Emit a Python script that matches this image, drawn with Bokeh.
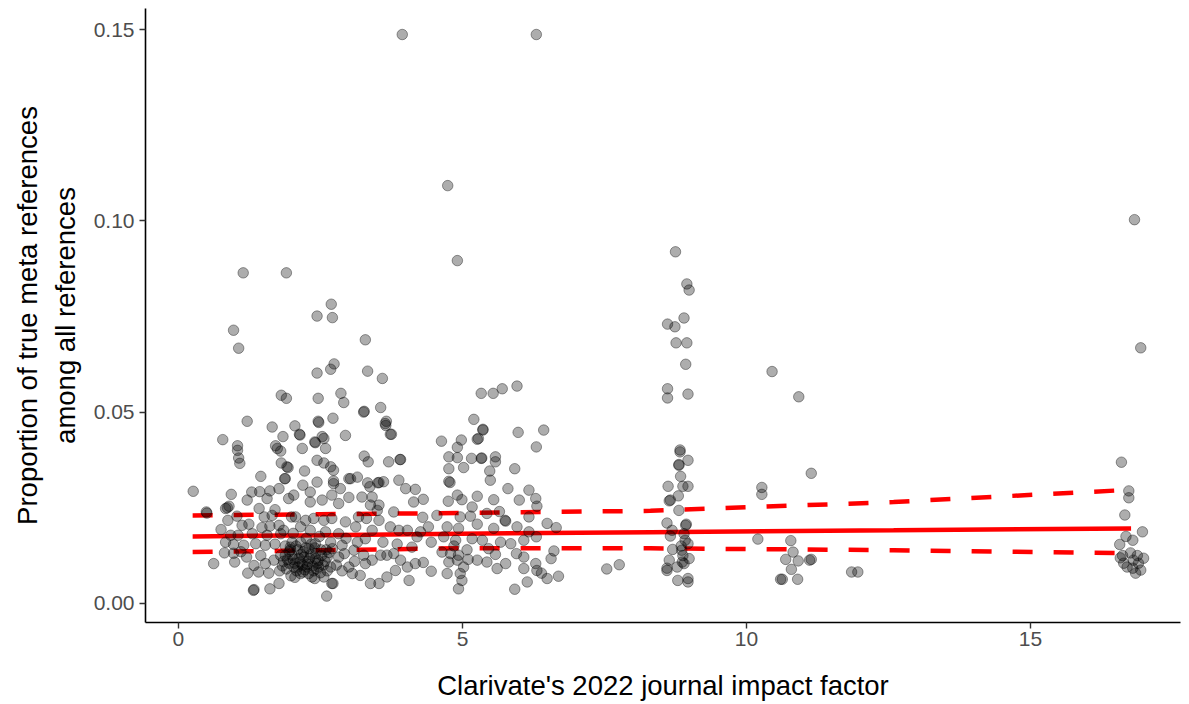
from bokeh.plotting import figure
from bokeh.models import ColumnDataSource, FixedTicker, PrintfTickFormatter, Range1d
from bokeh.embed import file_html
from bokeh.resources import INLINE

# ---- data (jittered journal impact factor vs proportion) ----
impact_factor = [
    3.94, 6.30, 4.74, 4.91, 8.75, 16.83, 16.94, 1.14, 1.90,
    0.97, 1.06, 2.69, 2.44, 2.71, 3.29, 2.74, 2.68, 2.44, 3.33, 3.59, 1.81, 1.90, 2.46, 2.86, 2.91, 3.26, 3.27, 3.56,
    1.21, 1.65, 2.05, 2.13, 2.46, 2.47, 2.72, 3.66, 3.65, 3.73, 2.94, 0.78, 1.04, 1.04, 1.06, 1.08, 1.71, 1.80, 1.84,
    2.18, 2.40, 2.53, 2.59, 2.44, 2.56, 2.68, 2.73, 3.27, 3.34, 3.70, 3.90, 1.81, 1.93, 2.22, 1.45, 1.88, 2.44, 2.73,
    3.00, 3.53, 3.88, 2.14, 2.56, 2.41, 3.03, 2.19, 2.73, 2.85, 3.33, 3.51, 3.61, 3.37, 3.15,
    0.26, 0.93, 0.86, 0.49, 0.62, 0.81, 0.97, 1.32, 1.61, 1.77, 2.61, 2.72,
    1.74, 1.91, 1.87, 1.29, 1.43, 1.61, 1.77, 1.21, 1.56, 1.94, 0.89, 0.83, 1.42, 0.50, 1.03, 0.87, 1.51, 1.65, 1.99,
    1.12, 1.24, 1.47, 1.61, 1.77, 0.75, 0.92, 1.05, 1.30, 1.56, 1.80, 0.83, 0.97, 1.15, 1.36, 1.53, 1.70, 1.97, 0.99,
    1.20, 1.33, 1.22, 1.41, 1.59, 1.53, 1.68, 1.33, 1.85, 1.70, 1.45, 1.10,
    2.06, 2.24, 2.38, 2.56, 2.70, 2.94, 2.15, 2.32, 2.59, 2.82, 2.15, 2.41, 2.68, 2.88, 2.00, 2.21, 2.41, 2.62, 2.82,
    2.10, 2.30, 2.51, 2.71, 2.03, 2.26, 2.47, 2.68, 2.15, 2.35, 2.56, 2.70, 1.85, 1.90, 1.95, 1.80, 1.88, 2.05, 2.12,
    2.18, 2.28, 2.33, 2.45, 2.52, 2.58, 1.92, 2.00, 2.08, 2.20, 2.38, 2.50, 1.78, 1.98, 2.40, 2.02, 2.25, 2.48, 2.65,
    2.78, 2.88, 2.92,
    1.95, 2.02, 2.10, 2.16, 2.22, 2.27, 2.31, 2.36, 2.42, 2.46, 1.88, 1.97, 2.07, 2.14, 2.19, 2.24, 2.29, 2.34, 2.43,
    2.55, 2.62, 1.83, 2.05, 2.40, 2.60,
    2.03, 2.32, 2.32, 2.53, 2.70, 2.82, 3.00, 3.23, 3.41, 3.53, 3.38, 3.79, 3.17, 3.31, 3.50, 3.53, 3.12, 3.73, 3.88,
    4.03, 4.20, 3.41, 3.29, 3.09, 3.26, 3.41, 3.56, 3.67, 3.79, 3.91, 4.03, 4.17, 4.06, 3.82, 3.67, 3.53, 3.38, 3.20,
    3.06, 3.00, 3.29, 3.10, 2.95, 3.15, 3.60, 3.85, 4.17, 4.14, 3.64, 4.00,
    5.20, 4.98, 4.63, 5.36, 5.26, 5.28, 5.98, 6.30, 6.43, 4.91, 4.76, 4.91, 5.16, 5.33, 5.58, 5.58, 4.76, 5.02, 5.48,
    5.49, 5.92, 4.76, 4.78, 4.31, 4.75, 4.91, 4.99, 5.26, 5.55, 6.17, 6.29, 5.17, 5.14, 5.43, 5.76, 6.17, 4.96, 4.26,
    4.73, 4.93, 5.26, 5.55, 5.96, 6.17, 4.67, 4.88, 5.17, 5.35, 5.67, 5.85, 6.08, 6.30, 4.11, 4.64, 4.79, 4.93, 5.08,
    5.46, 5.58, 5.95, 6.08, 4.76, 4.91, 5.02, 5.26, 5.43, 5.61, 5.76, 6.08, 6.31, 4.31, 4.45, 4.73, 4.96, 4.99, 4.93,
    6.14, 5.92,
    5.33, 5.54, 5.70, 5.96, 5.36, 3.75, 3.91, 5.34, 6.49, 6.65, 5.75, 6.61, 6.56, 6.29, 6.39, 6.49, 6.69, 6.31, 7.54,
    7.76, 4.45, 4.55, 4.40, 5.65, 6.00, 5.80, 4.85, 5.10, 4.30,
    8.95, 8.99, 8.90, 8.61, 8.74, 8.76, 8.95, 8.93, 8.61, 8.61, 8.97, 10.45, 10.92,
    8.83, 8.83, 8.97, 8.81, 8.81, 8.84, 8.62, 8.88, 8.97, 8.80, 8.66, 8.64, 8.81, 11.14, 10.27, 10.27,
    8.60, 8.94, 8.93, 8.69, 8.66, 8.90, 8.97, 8.70, 8.86, 8.99, 8.87, 8.64, 8.60, 8.79, 8.97, 8.97, 8.60, 8.78, 8.90,
    8.88, 8.85, 8.92,
    10.20, 10.78, 10.82, 10.69, 10.91, 10.79, 10.60, 10.63, 10.90, 11.11, 11.14, 11.85, 11.96,
    16.60, 16.73, 16.73, 16.66, 16.97, 16.68, 16.80, 16.57, 16.76, 16.58, 16.99, 16.70, 16.85, 16.94, 16.81, 16.64,
    16.90, 16.80, 16.62, 16.88,
]
proportion = [
    0.1487, 0.1487, 0.1092, 0.0896, 0.0919, 0.1003, 0.0668, 0.0864, 0.0864,
    0.0714, 0.0667, 0.0782, 0.0751, 0.0747, 0.0689, 0.0626, 0.0612, 0.0602, 0.0607, 0.0588, 0.0544, 0.0536, 0.0536,
    0.0549, 0.0525, 0.0500, 0.0502, 0.0512,
    0.0476, 0.0461, 0.0464, 0.0442, 0.0476, 0.0473, 0.0484, 0.0476, 0.0465, 0.0442, 0.0439, 0.0428, 0.0412, 0.0400,
    0.0380, 0.0366, 0.0412, 0.0398, 0.0436, 0.0405, 0.0422, 0.0436, 0.0405, 0.0374, 0.0367, 0.0357, 0.0348, 0.0385,
    0.0370, 0.0370, 0.0376, 0.0367, 0.0355, 0.0346, 0.0332, 0.0326, 0.0317, 0.0320, 0.0326, 0.0316, 0.0322, 0.0440,
    0.0431, 0.0420, 0.0326, 0.0309, 0.0313, 0.0300, 0.0315, 0.0315, 0.0318, 0.0305, 0.0330,
    0.0293, 0.0285, 0.0250, 0.0239, 0.0104, 0.0132, 0.0131, 0.0034, 0.0038, 0.0052, 0.0019, 0.0052,
    0.0405, 0.0357, 0.0326, 0.0291, 0.0292, 0.0294, 0.0300, 0.0270, 0.0274, 0.0274, 0.0254, 0.0248, 0.0248, 0.0236,
    0.0228, 0.0217, 0.0226, 0.0230, 0.0226, 0.0204, 0.0207, 0.0198, 0.0202, 0.0204, 0.0193, 0.0178, 0.0178, 0.0182,
    0.0178, 0.0182, 0.0160, 0.0154, 0.0152, 0.0156, 0.0152, 0.0155, 0.0147, 0.0108, 0.0121, 0.0099, 0.0079, 0.0082,
    0.0079, 0.0104, 0.0113, 0.0036, 0.0191, 0.0245, 0.0125, 0.0135,
    0.0226, 0.0217, 0.0222, 0.0217, 0.0222, 0.0213, 0.0200, 0.0191, 0.0187, 0.0182, 0.0160, 0.0156, 0.0160, 0.0152,
    0.0126, 0.0121, 0.0117, 0.0121, 0.0121, 0.0140, 0.0143, 0.0140, 0.0143, 0.0095, 0.0095, 0.0095, 0.0095, 0.0078,
    0.0069, 0.0069, 0.0052, 0.0110, 0.0090, 0.0135, 0.0125, 0.0150, 0.0105, 0.0118, 0.0100, 0.0110, 0.0128, 0.0105,
    0.0125, 0.0110, 0.0115, 0.0160, 0.0085, 0.0135, 0.0085, 0.0080, 0.0085, 0.0072, 0.0145, 0.0183, 0.0170, 0.0175,
    0.0133, 0.0100, 0.0085, 0.0130,
    0.0105, 0.0115, 0.0095, 0.0128, 0.0088, 0.0102, 0.0118, 0.0098, 0.0130, 0.0112, 0.0125, 0.0140, 0.0150, 0.0108,
    0.0082, 0.0145, 0.0078, 0.0155, 0.0090, 0.0100, 0.0085, 0.0098, 0.0068, 0.0065, 0.0140,
    0.0283, 0.0291, 0.0265, 0.0270, 0.0283, 0.0261, 0.0277, 0.0278, 0.0278, 0.0257, 0.0257, 0.0239, 0.0226, 0.0222,
    0.0243, 0.0217, 0.0200, 0.0200, 0.0191, 0.0191, 0.0174, 0.0191, 0.0169, 0.0139, 0.0126, 0.0113, 0.0126, 0.0126,
    0.0130, 0.0113, 0.0095, 0.0104, 0.0060, 0.0086, 0.0069, 0.0052, 0.0052, 0.0073, 0.0078, 0.0095, 0.0104, 0.0110,
    0.0170, 0.0160, 0.0160, 0.0155, 0.0298, 0.0265, 0.0470, 0.0300,
    0.0481, 0.0427, 0.0424, 0.0453, 0.0429, 0.0431, 0.0447, 0.0409, 0.0453, 0.0408, 0.0383, 0.0381, 0.0379, 0.0379,
    0.0383, 0.0370, 0.0352, 0.0355, 0.0346, 0.0322, 0.0352, 0.0319, 0.0316, 0.0272, 0.0267, 0.0283, 0.0271, 0.0280,
    0.0271, 0.0296, 0.0274, 0.0252, 0.0228, 0.0235, 0.0215, 0.0226, 0.0226, 0.0187, 0.0200, 0.0196, 0.0207, 0.0196,
    0.0200, 0.0187, 0.0174, 0.0165, 0.0169, 0.0165, 0.0160, 0.0156, 0.0165, 0.0174, 0.0147, 0.0134, 0.0130, 0.0126,
    0.0140, 0.0143, 0.0128, 0.0130, 0.0121, 0.0108, 0.0113, 0.0095, 0.0113, 0.0108, 0.0091, 0.0104, 0.0091, 0.0086,
    0.0107, 0.0084, 0.0078, 0.0078, 0.0060, 0.0038, 0.0056, 0.0037,
    0.0549, 0.0549, 0.0561, 0.0568, 0.0455, 0.0442, 0.0376, 0.0380, 0.0209, 0.0198, 0.0217, 0.0137, 0.0117, 0.0104,
    0.0079, 0.0065, 0.0071, 0.0254, 0.0090, 0.0101, 0.0160, 0.0230, 0.0200, 0.0240, 0.0270, 0.0300, 0.0150, 0.0115,
    0.0225,
    0.0835, 0.0819, 0.0746, 0.0730, 0.0723, 0.0681, 0.0681, 0.0625, 0.0561, 0.0537, 0.0547, 0.0606, 0.0540,
    0.0401, 0.0396, 0.0374, 0.0363, 0.0361, 0.0332, 0.0306, 0.0306, 0.0306, 0.0281, 0.0270, 0.0268, 0.0243, 0.0340,
    0.0303, 0.0285,
    0.0210, 0.0207, 0.0204, 0.0191, 0.0176, 0.0182, 0.0156, 0.0141, 0.0139, 0.0117, 0.0108, 0.0113, 0.0086, 0.0060,
    0.0056, 0.0065, 0.0092, 0.0095, 0.0104, 0.0125, 0.0150, 0.0165,
    0.0168, 0.0164, 0.0134, 0.0115, 0.0111, 0.0089, 0.0063, 0.0063, 0.0063, 0.0113, 0.0115, 0.0082, 0.0082,
    0.0369, 0.0294, 0.0276, 0.0231, 0.0187, 0.0175, 0.0165, 0.0154, 0.0132, 0.0119, 0.0118, 0.0095, 0.0079, 0.0087,
    0.0113, 0.0105, 0.0105, 0.0092, 0.0125, 0.0125,
]

# fitted regression line and its confidence band
fit_x = [0.25, 2.5, 4.96, 8.31, 12.59, 16.77]
fit_y = [0.0175, 0.0178, 0.0182, 0.0186, 0.0191, 0.0196]
ci_upper = [0.0230, 0.0233, 0.0236, 0.0242, 0.0265, 0.0297]
ci_lower = [0.0134, 0.0139, 0.0144, 0.0144, 0.0139, 0.0131]

x_ticks = [0, 5, 10, 15]
y_ticks = [0.00, 0.05, 0.10, 0.15]

n = min(len(impact_factor), len(proportion))
src = ColumnDataSource(dict(x=impact_factor[:n], y=proportion[:n]))

FONT = "Liberation Sans"

p = figure(width=1189, height=704, output_backend="svg", toolbar_location=None,
           x_range=Range1d(-0.58, 17.64), y_range=Range1d(-0.0050, 0.1555),
           min_border_left=145, min_border_right=9, min_border_top=8, min_border_bottom=82)

p.background_fill_color = "white"
p.border_fill_color = "white"
p.outline_line_color = None
p.xgrid.visible = False
p.ygrid.visible = False

# regression + CI lines
p.line(fit_x, ci_upper, line_color="#FF0000", line_width=4.5, line_dash="20 21")
p.line(fit_x, ci_lower, line_color="#FF0000", line_width=4.5, line_dash="20 21")
p.line(fit_x, fit_y, line_color="#FF0000", line_width=4.5)

# points
p.scatter("x", "y", source=src, size=10.5, fill_color="black", fill_alpha=0.32,
          line_color="black", line_alpha=0.38, line_width=1)

for ax in (p.xaxis[0], p.yaxis[0]):
    ax.axis_line_color = "black"
    ax.axis_line_width = 1.6
    ax.major_tick_line_color = "#333333"
    ax.major_tick_line_width = 1.4
    ax.major_tick_in = 0
    ax.major_tick_out = 6
    ax.minor_tick_line_color = None
    ax.major_label_text_font = FONT
    ax.major_label_text_font_size = "21px"
    ax.major_label_text_color = "#4D4D4D"
    ax.axis_label_text_font = FONT
    ax.axis_label_text_font_size = "27.5px"
    ax.axis_label_text_font_style = "normal"
    ax.axis_label_text_color = "black"

p.xaxis[0].ticker = FixedTicker(ticks=x_ticks)
p.yaxis[0].ticker = FixedTicker(ticks=y_ticks)
p.yaxis[0].formatter = PrintfTickFormatter(format="%.2f")
p.xaxis[0].major_label_standoff = 3
p.yaxis[0].major_label_standoff = 5
p.xaxis[0].axis_label = "Clarivate's 2022 journal impact factor"
p.yaxis[0].axis_label = "Proportion of true meta references\namong all references"
p.xaxis[0].axis_label_standoff = 21
p.yaxis[0].axis_label_standoff = 10

open("out.html", "w").write(file_html(p, INLINE))
